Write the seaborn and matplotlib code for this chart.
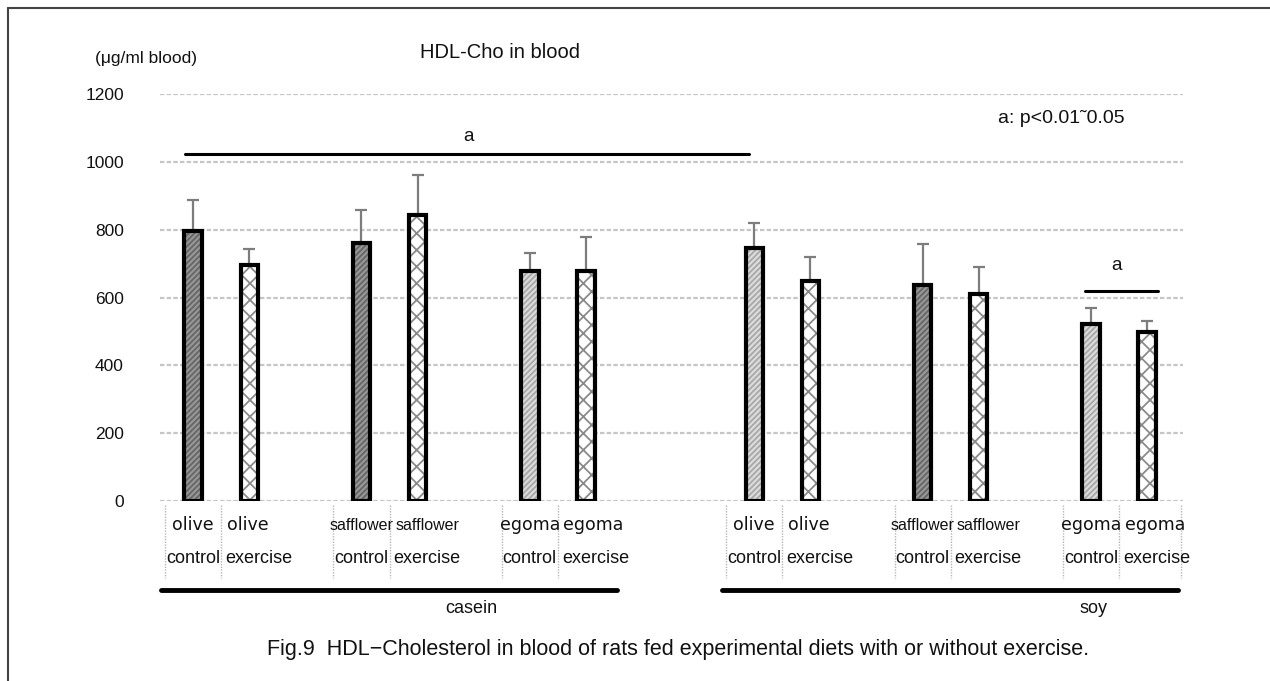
import numpy as np
import pandas as pd
import matplotlib
matplotlib.use("Agg")
import matplotlib.pyplot as plt
import seaborn as sns
from matplotlib.lines import Line2D

# ---------------- data ----------------
groups = ["casein", "soy"]
oils = ["olive", "safflower", "egoma"]
conditions = ["control", "exercise"]
casein_mean = [795, 695, 762, 842, 679, 679]
casein_sd = [93, 47, 95, 118, 53, 98]
soy_mean = [747, 650, 638, 609, 521, 497]
soy_sd = [74, 68, 121, 80, 47, 35]
casein_fill = ["dark", "check", "dark", "check", "light", "check"]
soy_fill = ["light", "check", "dark", "check", "light", "check"]
yticks = [0, 200, 400, 600, 800, 1000, 1200]

title = "HDL-Cho in blood"
unit_label = "(\u03bcg/ml blood)"
sig_note = "a: p<0.01\u02dc0.05"
caption = "Fig.9  HDL\u2212Cholesterol in blood of rats fed experimental diets with or without exercise."

# ---------------- style ----------------
sns.set_theme(style="white")
plt.rcParams["font.family"] = ["Liberation Sans Narrow", "Liberation Sans", "DejaVu Sans"]
plt.rcParams["hatch.linewidth"] = 1.3

fill_styles = {
    "dark": dict(face="#979797", hatch="//////", hcol="#666666"),
    "light": dict(face="#dcdcdc", hatch="//////", hcol="#a8a8a8"),
    "check": dict(face="#ffffff", hatch="xx", hcol="#8a8a8a"),
}

means = {"casein": casein_mean, "soy": soy_mean}
sds = {"casein": casein_sd, "soy": soy_sd}
fills = {"casein": casein_fill, "soy": soy_fill}

rows, order = [], []
nblank = 0
group_slots = {}
for gi, g in enumerate(groups):
    k = 0
    slots = []
    for oi, oil in enumerate(oils):
        for c in conditions:
            key = f"{g}|{oil}|{c}"
            slots.append(len(order))
            order.append(key)
            rows.append(dict(key=key, group=g, oil=oil, cond=c,
                             mean=means[g][k], sd=sds[g][k], fill=fills[g][k]))
            k += 1
        if not (gi == len(groups) - 1 and oi == len(oils) - 1):
            nblank += 1
            order.append(" " * nblank)
    if gi < len(groups) - 1:
        nblank += 1
        order.append(" " * nblank)
    group_slots[g] = slots
df = pd.DataFrame(rows)
style_by_key = dict(zip(df["key"], df["fill"]))

W, H = 1270, 681
fig = plt.figure(figsize=(W / 100, H / 100), dpi=100)
ax = fig.add_axes([160 / W, 1 - 501 / H, (1183 - 160) / W, (501 - 94) / H])

# filled + hatched bars
sns.barplot(data=df, x="key", y="mean", order=order, width=0.31, errorbar=None,
            color="white", saturation=1, ax=ax, zorder=2)
for p in list(ax.patches):
    idx = int(round(p.get_x() + p.get_width() / 2))
    st = fill_styles[style_by_key[order[idx]]]
    p.set_facecolor(st["face"])
    p.set_hatch(st["hatch"])
    p.set_edgecolor(st["hcol"])
    p.set_linewidth(0)
# black outlines
sns.barplot(data=df, x="key", y="mean", order=order, width=0.31, errorbar=None,
            color="black", fill=False, linewidth=3.0, ax=ax, zorder=3)

# error bars (upper only)
xs = [order.index(k) for k in df["key"]]
ax.errorbar(xs, df["mean"], yerr=[np.zeros(len(df)), df["sd"]], fmt="none",
            ecolor="#7d7d7d", elinewidth=1.6, capsize=4, capthick=1.6, zorder=1)

ax.set_ylim(0, 1200)
ax.set_xlim(-0.59, len(order) - 1 + 0.64)
ax.set_yticks(yticks)
ax.set_yticklabels([str(v) for v in yticks])
ax.set_xticks([])
ax.set_xlabel("")
ax.set_ylabel("")
ax.yaxis.grid(True, color="#c6c6c6", linestyle=(0, (2, 1)), linewidth=1.6)
ax.set_axisbelow(True)
sns.despine(ax=ax, left=True, bottom=True)
ax.tick_params(axis="y", length=0, pad=26, labelsize=12.5, labelcolor="#111111")

# ---------------- category table below the axis ----------------
tr = ax.get_xaxis_transform()
for r in rows:
    i = order.index(r["key"])
    ax.add_line(Line2D([i - 0.5, i - 0.5], [-0.01, -0.19], transform=tr, color="#b5b5b5",
                       linestyle=(0, (1, 1)), linewidth=1.0, clip_on=False))
    oil_kw = dict(fontsize=12.5, family=["DejaVu Sans"]) if r["oil"] != "safflower" else dict(fontsize=11.5)
    if r["cond"] == "control":
        ax.text(i, -0.059, r["oil"], transform=tr, ha="center", va="center", color="#111111", **oil_kw)
        ax.text(i, -0.1425, r["cond"], transform=tr, ha="center", va="center", fontsize=13, color="#111111")
    else:
        ax.text(i - 0.4, -0.059, r["oil"], transform=tr, ha="left", va="center", color="#111111", **oil_kw)
        ax.text(i - 0.43, -0.1425, r["cond"], transform=tr, ha="left", va="center", fontsize=13, color="#111111")
last = len(order) - 1
ax.add_line(Line2D([last + 0.6, last + 0.6], [-0.01, -0.19], transform=tr, color="#b5b5b5",
                   linestyle=(0, (1, 1)), linewidth=1.0, clip_on=False))

# group bars and labels
group_label_offset = {"casein": 1.45, "soy": 2.55}
for g in groups:
    s = group_slots[g]
    ax.add_line(Line2D([s[0] - 0.57, s[-1] + 0.55], [-0.2187, -0.2187], transform=tr,
                       color="black", linewidth=3.5, clip_on=False))
    ax.text((s[0] + s[-1]) / 2 + group_label_offset[g], -0.263, g, transform=tr,
            ha="center", va="center", fontsize=13, color="#111111")

# significance markers
ax.add_line(Line2D([-0.15, 9.9], [1024, 1024], color="black", linewidth=2.2, clip_on=False))
ax.text(4.9, 1076, "a", ha="center", va="center", fontsize=13.5, color="#111111")
ax.add_line(Line2D([15.9, 17.2], [618, 618], color="black", linewidth=2.2, clip_on=False))
ax.text(16.46, 695, "a", ha="center", va="center", fontsize=13.5, color="#111111")
ax.text(0.819, 0.941, sig_note, transform=ax.transAxes, ha="left", va="center",
        fontsize=14, color="#111111")

# titles and caption
fig.text(500 / W, 1 - 52 / H, title, ha="center", va="center", fontsize=14.5, color="#111111")
fig.text(95 / W, 1 - 58 / H, unit_label, ha="left", va="center", fontsize=12.5, color="#111111")
fig.text(678 / W, 1 - 650 / H, caption, ha="center", va="center", fontsize=15.5, color="#111111")

# page border (top and left)
fig.add_artist(Line2D([8 / W, 1], [1 - 8 / H, 1 - 8 / H], transform=fig.transFigure,
                      color="#444444", linewidth=1.5))
fig.add_artist(Line2D([8 / W, 8 / W], [0, 1 - 8 / H], transform=fig.transFigure,
                      color="#444444", linewidth=1.5))

fig.savefig("out.png", dpi=100)
